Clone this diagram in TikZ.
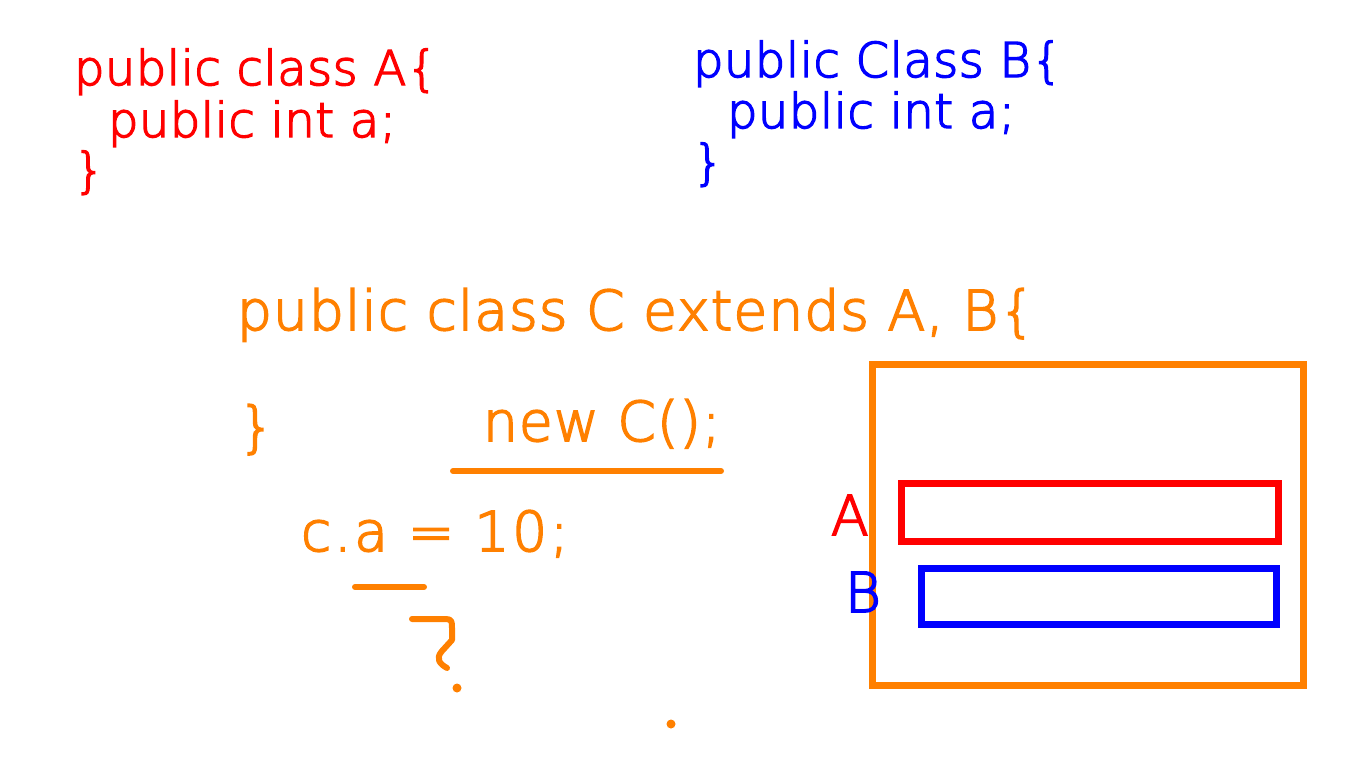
\documentclass[tikz,border=0pt]{standalone}
\usepackage{fontspec}
\setmainfont{DejaVu Sans ExtraLight}[FakeBold=3,BoldFont=DejaVu Sans ExtraLight]
\definecolor{codered}{RGB}{255,0,0}
\definecolor{codeblue}{RGB}{0,0,255}
\definecolor{codeorange}{RGB}{255,128,0}
\begin{document}
\begin{tikzpicture}[x=0.75pt,y=-0.75pt,
  txt/.style={anchor=base west,inner sep=0pt,outer sep=0pt},
  small/.style={font=\fontsize{36}{36}\selectfont\bfseries\addfontfeatures{LetterSpace=1}},
  big/.style={font=\fontsize{41.25}{41.25}\selectfont\bfseries\addfontfeatures{LetterSpace=2}},
  wide/.style={font=\fontsize{41.25}{41.25}\selectfont\bfseries\addfontfeatures{LetterSpace=5}},
  pen/.style={line width=4.5pt,line cap=round,line join=round,codeorange},
  frame/.style={line width=5.25pt}]
\useasboundingbox (0,0) rectangle (1360,768);
% class A
\node[txt,small,codered] (a1) at (74,85) {public class A\{};
\node[txt,small,codered] (a2) at (108,137) {public int a;};
\node[txt,small,codered] (a3) at (74,187) {\}};
% class B
\node[txt,small,codeblue] (b1) at (693,77) {public Class B\{};
\node[txt,small,codeblue] (b2) at (727,128) {public int a;};
\node[txt,small,codeblue] (b3) at (693,179) {\}};
% class C
\node[txt,big,codeorange] (c1) at (237,330) {public class C extends A, B\{};
\node[txt,big,codeorange] (c2) at (239,446) {\}};
\node[txt,big,codeorange] (c3) at (483,441) {new C();};
\node[txt,wide,codeorange] (c4) at (301,551) {c.a = 10;};
% underlines
\coordinate (u1a) at (453,471);
\coordinate (u1b) at (721,471);
\draw[pen] (u1a) -- (u1b);
\coordinate (u2a) at (355,587);
\coordinate (u2b) at (424,587);
\draw[pen] (u2a) -- (u2b);
% hand drawn question mark
\coordinate (q0) at (412,619);
\coordinate (q1) at (452,640);
\coordinate (q2) at (447,668);
\draw[pen] (q0) -- (446,619) .. controls (452,619) and (452,622) .. (452,628)
  -- (q1) -- (442,651) .. controls (435,659) and (440,664) .. (q2);
\coordinate (d1) at (457,688);
\coordinate (d2) at (671,724);
\fill[codeorange] (d1) circle (4.5);
\fill[codeorange] (d2) circle (4.5);
% memory boxes
\draw[frame,codeorange] (872,364) rectangle (1303,685);
\draw[frame,codered] (901,483) rectangle (1278,541);
\draw[frame,codeblue] (921,568) rectangle (1276,624);
\node[txt,big,codered] (la) at (831,535) {A};
\node[txt,big,codeblue] (lb) at (845,612) {B};
\end{tikzpicture}
\end{document}
